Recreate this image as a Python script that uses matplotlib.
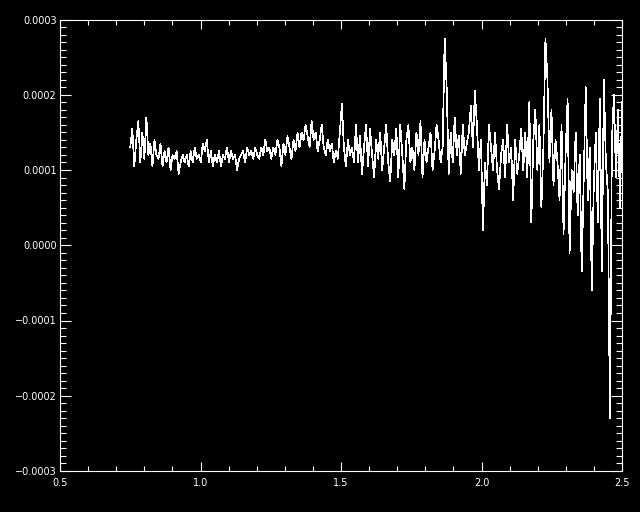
import numpy as np
import matplotlib
matplotlib.use("Agg")
import matplotlib.pyplot as plt
from matplotlib.ticker import MultipleLocator, FuncFormatter

# Spectrum values in units of 1e-5, evenly spaced from 0.75 to 2.5
x_start, x_stop = 0.75, 2.5
vals_e5 = [
    # 0.75-0.85
    13, 15.5, 10.5, 14, 16.5, 11, 15, 11.5, 17, 12, 13.5, 10.5, 14, 12,
    # 0.85-0.95
    11.5, 13.5, 10.5, 12.5, 11, 13, 10, 12, 11.5, 12.5, 9.5, 11, 12, 11,
    # 0.95-1.05
    12, 10.5, 12.5, 11, 13, 11.5, 12, 11, 13.5, 12.5, 14, 11, 12.5, 10.5,
    # 1.05-1.15
    12, 11, 12.5, 10.5, 12, 11.5, 13, 11, 12.5, 11.5, 12, 10, 11.5, 12,
    # 1.15-1.25
    12.5, 11, 13, 12, 12.5, 11.5, 13, 12, 11.5, 13, 12, 14, 12.5, 13,
    # 1.25-1.35
    11.5, 13, 12, 14, 13, 10.5, 13.5, 12, 14.5, 13, 11.5, 14, 12.5, 15,
    # 1.35-1.45
    13, 15, 14, 16, 14.5, 13, 16.5, 14, 15, 12.5, 14, 16, 13, 12,
    # 1.45-1.55
    14, 12.5, 13.5, 11, 12.5, 11.5, 15, 18.8, 13, 10.5, 14, 12, 13, 11,
    # 1.55-1.65
    16, 11, 14.5, 9.5, 13, 16, 10.5, 15.5, 12, 9, 14, 11.5, 15, 10,
    # 1.65-1.75
    13, 16, 11, 8.5, 14, 12, 15.5, 9, 16, 12, 7.5, 14, 16, 11,
    # 1.75-1.85
    13, 10, 15, 12, 16.5, 9, 14, 11, 13, 15, 10, 12.5, 16, 14,
    # 1.85-1.95
    11, 13, 27.5, 21, 9.5, 15, 11, 17, 12, 14.5, 9.5, 16, 12, 13.5,
    # 1.95-2.05
    15, 18.5, 13, 20.5, 16, 10, 14, 2, 11, 8, 16, 13, 10, 15,
    # 2.05-2.15
    10, 7.5, 12, 14, 9, 16, 11, 13, 6, 14, 9.5, 12, 15.5, 10,
    # 2.15-2.25
    15, 9, 19, 3, 14, 18, 10, 16, 5, 13, 27.5, 22, 11, 18,
    # 2.25-2.35
    8, 14, 11, 6, 16, 1.5, 12, 19.5, -1, 10, 7, 15, 4, 12,
    # 2.35-2.45
    -3.5, 9, 21, 6, 13, -6, 8, 15, 3, 19.5, -3.5, 22, 11, 7,
    # 2.45-2.5
    -23, 14, 20, 9, 18, 5, 19,
]
y = np.array(vals_e5) * 1e-5
x = np.linspace(x_start, x_stop, len(y))

x_ticks = [0.5, 1.0, 1.5, 2.0, 2.5]
y_ticks = [-0.0003, -0.0002, -0.0001, 0.0, 0.0001, 0.0002, 0.0003]

fig = plt.figure(figsize=(6.4, 5.12), dpi=100, facecolor="black")
ax = fig.add_axes([60/640, 1 - 471/512, (622 - 60)/640, (471 - 19.5)/512])
ax.set_facecolor("black")
ax.plot(x, y, color="white", lw=0.5, antialiased=False)

ax.set_xlim(0.5, 2.5)
ax.set_ylim(-0.0003, 0.0003)
ax.set_xticks(x_ticks)
ax.set_yticks(y_ticks)
ax.xaxis.set_minor_locator(MultipleLocator(0.1))
ax.yaxis.set_minor_locator(MultipleLocator(0.00001))
ax.xaxis.set_major_formatter(FuncFormatter(lambda v, p: f"{v:.1f}"))

def yfmt(v, p):
    s = f"{v:.4f}"
    if s.startswith("-"):
        s = "\u2212" + s[1:] if abs(v) > 1e-12 else s[1:]
    return s
ax.yaxis.set_major_formatter(FuncFormatter(yfmt))

for sp in ax.spines.values():
    sp.set_color("white")
    sp.set_linewidth(0.8)

ax.tick_params(axis="x", which="major", direction="in", length=6.5, width=0.8,
               colors="white", top=True, bottom=True, labelsize=7, pad=5)
ax.tick_params(axis="x", which="minor", direction="in", length=3.3, width=0.8,
               colors="white", top=True, bottom=True)
ax.tick_params(axis="y", which="major", direction="in", length=8, width=0.8,
               colors="white", left=True, right=True, labelsize=7, pad=2.5)
ax.tick_params(axis="y", which="minor", direction="in", length=4, width=0.8,
               colors="white", left=True, right=True)

fig.savefig("out.png", dpi=100, facecolor="black")
